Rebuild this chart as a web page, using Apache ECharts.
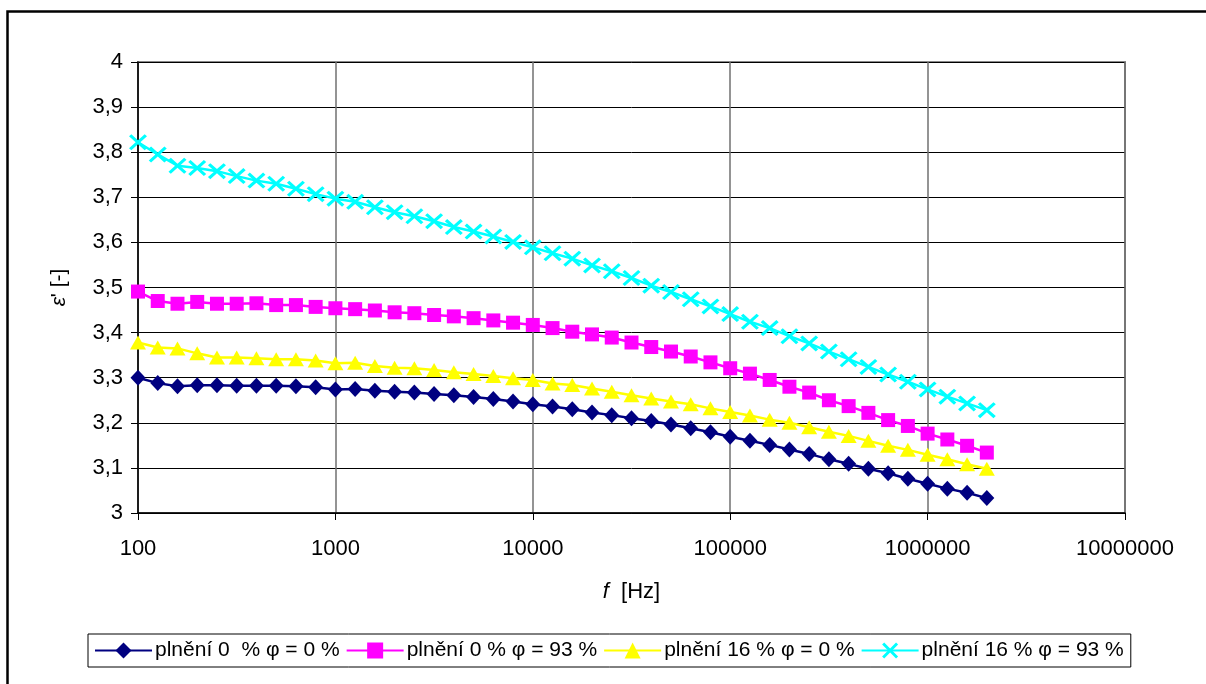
<!DOCTYPE html>
<html>
<head>
<meta charset="utf-8">
<script src="https://cdn.jsdelivr.net/npm/echarts@6/dist/echarts.min.js"></script>
<style>
html,body{margin:0;padding:0;background:#fff;}
#chart{width:1206px;height:684px;}
</style>
</head>
<body>
<div id="chart"></div>
<script>
// Frequencies [Hz]
const freq = [100,125.9,158.5,199.5,251.2,316.2,398.1,501.2,631,794.3,
  1000,1259,1585,1995,2512,3162,3981,5012,6310,7943,
  10000,12589,15849,19953,25119,31623,39811,50119,63096,79433,
  100000,125893,158489,199526,251189,316228,398107,501187,630957,794328,
  1000000,1258925,1584893,1995262];

const seriesNames = ['plnění 0  % φ = 0 %','plnění 0 % φ = 93 %','plnění 16 % φ = 0 %','plnění 16 % φ = 93 %'];

const fill0_phi0 = [3.300,3.288,3.281,3.283,3.283,3.282,3.282,3.282,3.281,3.279,
  3.274,3.275,3.271,3.269,3.267,3.264,3.261,3.257,3.253,3.247,
  3.241,3.236,3.230,3.223,3.217,3.210,3.204,3.196,3.188,3.179,
  3.169,3.160,3.151,3.141,3.131,3.119,3.109,3.098,3.088,3.076,
  3.065,3.054,3.045,3.033];

const fill0_phi93 = [3.491,3.470,3.464,3.468,3.464,3.464,3.465,3.461,3.461,3.457,
  3.454,3.452,3.449,3.445,3.443,3.439,3.436,3.432,3.427,3.422,
  3.417,3.410,3.402,3.396,3.389,3.378,3.368,3.358,3.347,3.334,
  3.321,3.309,3.295,3.280,3.267,3.250,3.237,3.222,3.206,3.193,
  3.176,3.163,3.149,3.134];

const fill16_phi0 = [3.378,3.367,3.365,3.354,3.345,3.345,3.343,3.341,3.341,3.338,
  3.332,3.333,3.326,3.322,3.321,3.317,3.312,3.308,3.304,3.299,
  3.295,3.287,3.284,3.276,3.269,3.261,3.254,3.247,3.241,3.232,
  3.224,3.216,3.207,3.200,3.190,3.180,3.171,3.160,3.149,3.140,
  3.129,3.119,3.108,3.098];

const fill16_phi93 = [3.822,3.795,3.770,3.765,3.758,3.747,3.737,3.730,3.719,3.707,
  3.697,3.690,3.678,3.667,3.658,3.647,3.634,3.624,3.613,3.601,
  3.589,3.576,3.564,3.549,3.536,3.521,3.504,3.490,3.474,3.458,
  3.441,3.424,3.410,3.392,3.376,3.358,3.341,3.324,3.307,3.291,
  3.274,3.258,3.243,3.228];

const colors = ['#000080','#FF00FF','#FFFF00','#00FFFF'];
const crossPath = 'path://M0,1.3L1.3,0L5,3.7L8.7,0L10,1.3L6.3,5L10,8.7L8.7,10L5,6.3L1.3,10L0,8.7L3.7,5Z';
const symbols = ['diamond','rect','triangle',crossPath];
const symbolSizes = [[15,16],[14,14],[16,14],[18,16]];
const allValues = [fill0_phi0, fill0_phi93, fill16_phi0, fill16_phi93];

const chart = echarts.init(document.getElementById('chart'));
const font = 'Liberation Sans, Arial, sans-serif';

const series = allValues.map((vals, k) => ({
  name: seriesNames[k],
  type: 'line',
  data: freq.map((f, i) => [f, vals[i]]),
  symbol: symbols[k],
  symbolSize: symbolSizes[k],
  showAllSymbol: true,
  lineStyle: {color: colors[k], width: 2.5},
  itemStyle: {color: colors[k], borderColor: colors[k], borderWidth: 0},
  emphasis: {disabled: true},
  z: 2 + k
}));

chart.setOption({
  animation: false,
  backgroundColor: '#fff',
  color: colors,
  grid: {left: 138, right: 81, top: 62, bottom: 171, show: true, borderColor: '#888', borderWidth: 2, backgroundColor: 'transparent'},
  graphic: [{
    type: 'rect', left: 5, top: 9, shape: {x: 0, y: 0, width: 1220, height: 700},
    style: {fill: 'none', stroke: '#000', lineWidth: 2.5}, silent: true, z: 100
  }],
  xAxis: {
    type: 'log', logBase: 10, min: 100, max: 10000000,
    name: '{i|f}  [Hz]', nameLocation: 'middle', nameGap: 68,
    nameTextStyle: {fontFamily: font, fontSize: 22, color: '#000',
      rich: {i: {fontStyle: 'italic', fontFamily: font, fontSize: 22, color: '#000'}}},
    axisLine: {show: true, lineStyle: {color: '#000', width: 1.5}},
    axisTick: {show: true, inside: false, length: 7, lineStyle: {color: '#000', width: 1}},
    minorTick: {show: false},
    axisLabel: {fontFamily: font, fontSize: 22, color: '#000', margin: 25,
      formatter: v => String(Math.round(v))},
    splitLine: {show: true, lineStyle: {color: '#707070', width: 1.5}}
  },
  yAxis: {
    type: 'value', min: 3, max: 4, interval: 0.1,
    name: "{i|ε}' [-]", nameLocation: 'middle', nameGap: 68, nameRotate: 90,
    nameTextStyle: {fontFamily: font, fontSize: 21, color: '#000',
      rich: {i: {fontStyle: 'italic', fontFamily: font, fontSize: 21, color: '#000'}}},
    axisLine: {show: true, lineStyle: {color: '#000', width: 1.5}},
    axisTick: {show: true, inside: false, length: 7, lineStyle: {color: '#000', width: 1}},
    axisLabel: {fontFamily: font, fontSize: 22, color: '#000', margin: 15,
      formatter: v => (Math.round(v * 10) / 10).toString().replace('.', ',')},
    splitLine: {show: true, lineStyle: {color: '#000', width: 1}}
  },
  legend: {
    data: seriesNames,
    left: 88, top: 634,
    orient: 'horizontal',
    borderColor: '#000', borderWidth: 1,
    padding: [6, 7, 6, 6],
    itemGap: 6, itemWidth: 57, itemHeight: 20,
    textStyle: {fontFamily: font, fontSize: 21, color: '#000', padding: [0, 0, 0, -2]},
    selectedMode: false
  },
  series: series
});
</script>
</body>
</html>
